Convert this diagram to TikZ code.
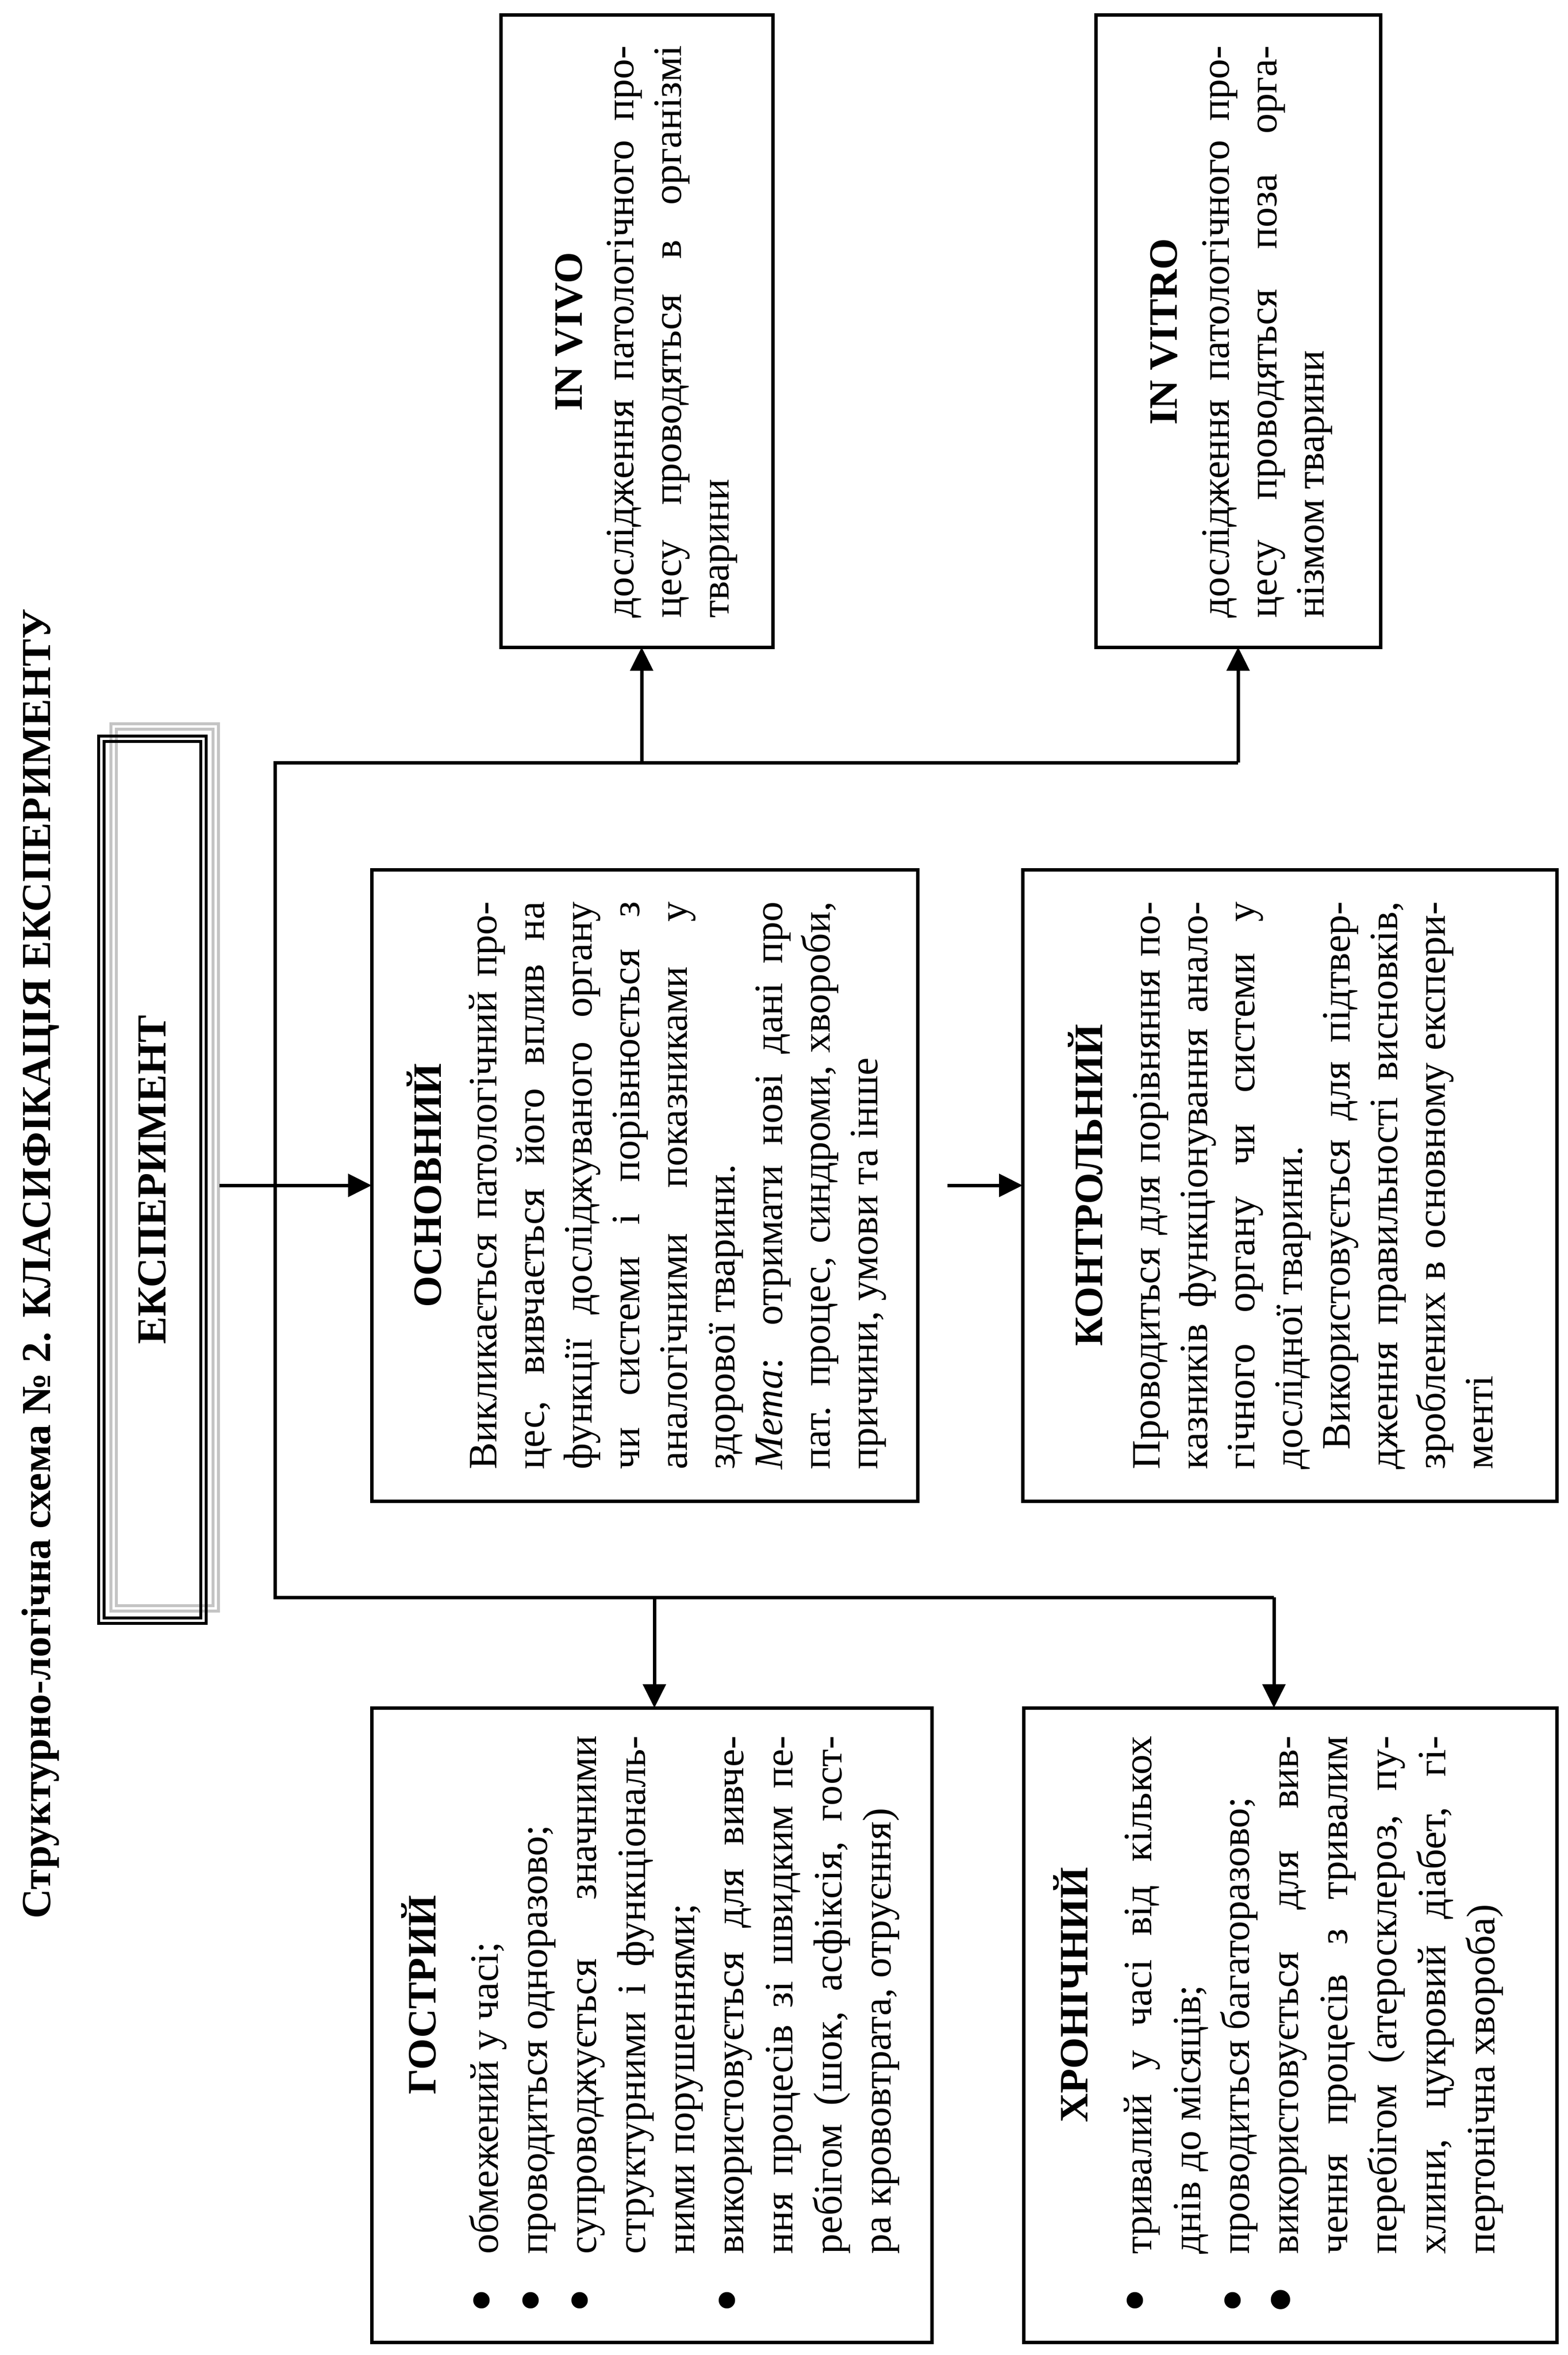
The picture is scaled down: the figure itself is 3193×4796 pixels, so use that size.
\documentclass[tikz,border=0pt]{standalone}
\usepackage{fontspec}
\setmainfont{Liberation Serif}
\usetikzlibrary{arrows.meta}
\definecolor{frgray}{RGB}{196,196,196}
\newcommand\jl[1]{\hbox to\hsize{#1}}
\newcommand\rl[1]{\hbox{#1}}
\newcommand\hd[1]{\hbox to\hsize{\hfil\bfseries #1\hfil}}
\newcommand\bul{\llap{\raisebox{-1.3pt}{\fontsize{14pt}{14pt}\selectfont •}\kern7pt}}
\newcommand\bigbul{\llap{\raisebox{-1.9pt}{\fontsize{16.5pt}{16.5pt}\selectfont •}\kern6.5pt}}
\newcommand\bl[1]{\hbox{\bul#1}}
\newcommand\bj[1]{\hbox to\hsize{\bul#1}}
\newcommand\bJ[1]{\hbox to\hsize{\bigbul#1}}
\newcommand\tbox[3]{\vtop{\hsize=#1\relax\baselineskip=#2\relax\lineskiplimit=-20pt\relax #3}}
\begin{document}
\begin{tikzpicture}[x=0.1pt,y=-0.1pt,
  every node/.style={font=\fontsize{8.2pt}{9.7pt}\selectfont, inner sep=0pt, outer sep=0pt},
  mybox/.style={draw, line width=0.7pt, rectangle},
  txt/.style={rotate=90, anchor=base west},
  arr/.style={line width=0.7pt, -{Triangle[length=4.8pt,width=4.6pt]}},
  conn/.style={line width=0.7pt, line join=miter}]
\useasboundingbox (0,0) rectangle (3193,4796);

% title
\node[rotate=90, anchor=base east, font=\fontsize{8.4pt}{10pt}\selectfont\bfseries] (title) at (103,1240) {Структурно-логічна схема № 2. КЛАСИФІКАЦІЯ ЕКСПЕРИМЕНТУ};

% experiment frame
\draw[line width=0.65pt, frgray] (226,1474) rectangle (445,3281) (237,1485) rectangle (434,3270);
\node[draw, line width=0.65pt, minimum width=21.9pt, minimum height=180.7pt] (exp) at (310.5,2402.5) {};
\draw[line width=0.65pt] (212,1510) rectangle (409,3295);
\node[rotate=90, font=\fontsize{8.4pt}{10pt}\selectfont\bfseries] (expT) at (exp.center) {ЕКСПЕРИМЕНТ};

% boxes
\node[mybox, minimum width=55.5pt, minimum height=128.8pt] (vivo) at (1297.5,674) {};
\node[mybox, minimum width=58pt, minimum height=128.8pt] (vitro) at (2522,674) {};
\node[mybox, minimum width=111.3pt, minimum height=128.6pt] (osn) at (1313.5,2414) {};
\node[mybox, minimum width=108.9pt, minimum height=128.6pt] (kontr) at (2627.5,2414) {};
\node[mybox, minimum width=114.2pt, minimum height=129.2pt] (gostr) at (1328,4124) {};
\node[mybox, minimum width=108.7pt, minimum height=129.2pt] (hron) at (2628.5,4124) {};

% connectors
\coordinate (tTop) at (560,1553);
\coordinate (tBot) at (560,3253);
\coordinate (jVivo) at (1307,1553);
\coordinate (jVitro) at (2522,1553);
\coordinate (jGostr) at (1333,3253);
\coordinate (jHron) at (2595,3253);
\draw[conn] (jVitro) -- (tTop) -- (tBot) -- (jHron);
\draw[arr] (jVivo) -- (jVivo |- vivo.south);
\draw[arr] (jVitro) -- (vitro.south);
\draw[arr] (jGostr) -- (jGostr |- gostr.north);
\draw[arr] (jHron) -- (jHron |- hron.north);
\coordinate (eOut) at (447,2414);
\draw[arr] (eOut) -- (osn.west);
\coordinate (kIn) at (1930,2414);
\draw[arr] (kIn) -- (kontr.west);

% texts
\node[txt] (vivoT) at (1185,1258) {\tbox{116.5pt}{9.7pt}{%
\hd{IN VIVO}\kern0.9pt
\jl{дослідження патологічного про-}
\jl{цесу проводяться в організмі}
\rl{тварини}}};

\node[txt] (vitroT) at (2397,1258) {\tbox{116.5pt}{9.7pt}{%
\hd{IN VITRO}\kern0.9pt
\jl{дослідження патологічного про-}
\jl{цесу проводяться поза орга-}
\rl{нізмом тварини}}};

\node[txt] (osnT) at (898,2992) {\tbox{115.6pt}{9.7pt}{%
\hd{ОСНОВНИЙ}\kern1.7pt
\jl{Викликається патологічний про-}
\jl{цес, вивчається його вплив на}
\jl{функції досліджуваного органу}
\jl{чи системи і порівнюється з}
\jl{аналогічними показниками у}
\rl{здорової тварини.}
\jl{\textit{Мета}: отримати нові дані про}
\jl{пат. процес, синдроми, хвороби,}
\rl{причини, умови та інше}}};

\node[txt] (kontrT) at (2245,2992) {\tbox{115.6pt}{9.7pt}{%
\hd{КОНТРОЛЬНИЙ}\kern2pt
\jl{Проводиться для порівняння по-}
\jl{казників функціонування анало-}
\jl{гічного органу чи системи у}
\rl{дослідної тварини.}
\jl{\kern4pt Використовується для підтвер-}
\jl{дження правильності висновків,}
\jl{зроблених в основному експери-}
\rl{менті}}};

\node[txt] (gostrT) at (887,4590) {\tbox{105.5pt}{10pt}{%
\hd{ГОСТРИЙ}\kern2.8pt
\bl{обмежений у часі;}
\bl{проводиться одноразово;}
\bj{супроводжується значними}
\jl{структурними і функціональ-}
\rl{ними порушеннями;}
\bj{використовується для вивче-}
\jl{ння процесів зі швидким пе-}
\jl{ребігом (шок, асфіксія, гост-}
\rl{ра крововтрата, отруєння)}}};

\node[txt] (hronT) at (2215,4590) {\tbox{105.5pt}{10pt}{%
\hd{ХРОНІЧНИЙ}\kern3pt
\bj{тривалий у часі від кількох}
\rl{днів до місяців;}
\bl{проводиться багаторазово;}
\bJ{використовується для вив-}
\jl{чення процесів з тривалим}
\jl{перебігом (атеросклероз, пу-}
\jl{хлини, цукровий діабет, гі-}
\rl{пертонічна хвороба)}}};
\end{tikzpicture}
\end{document}
